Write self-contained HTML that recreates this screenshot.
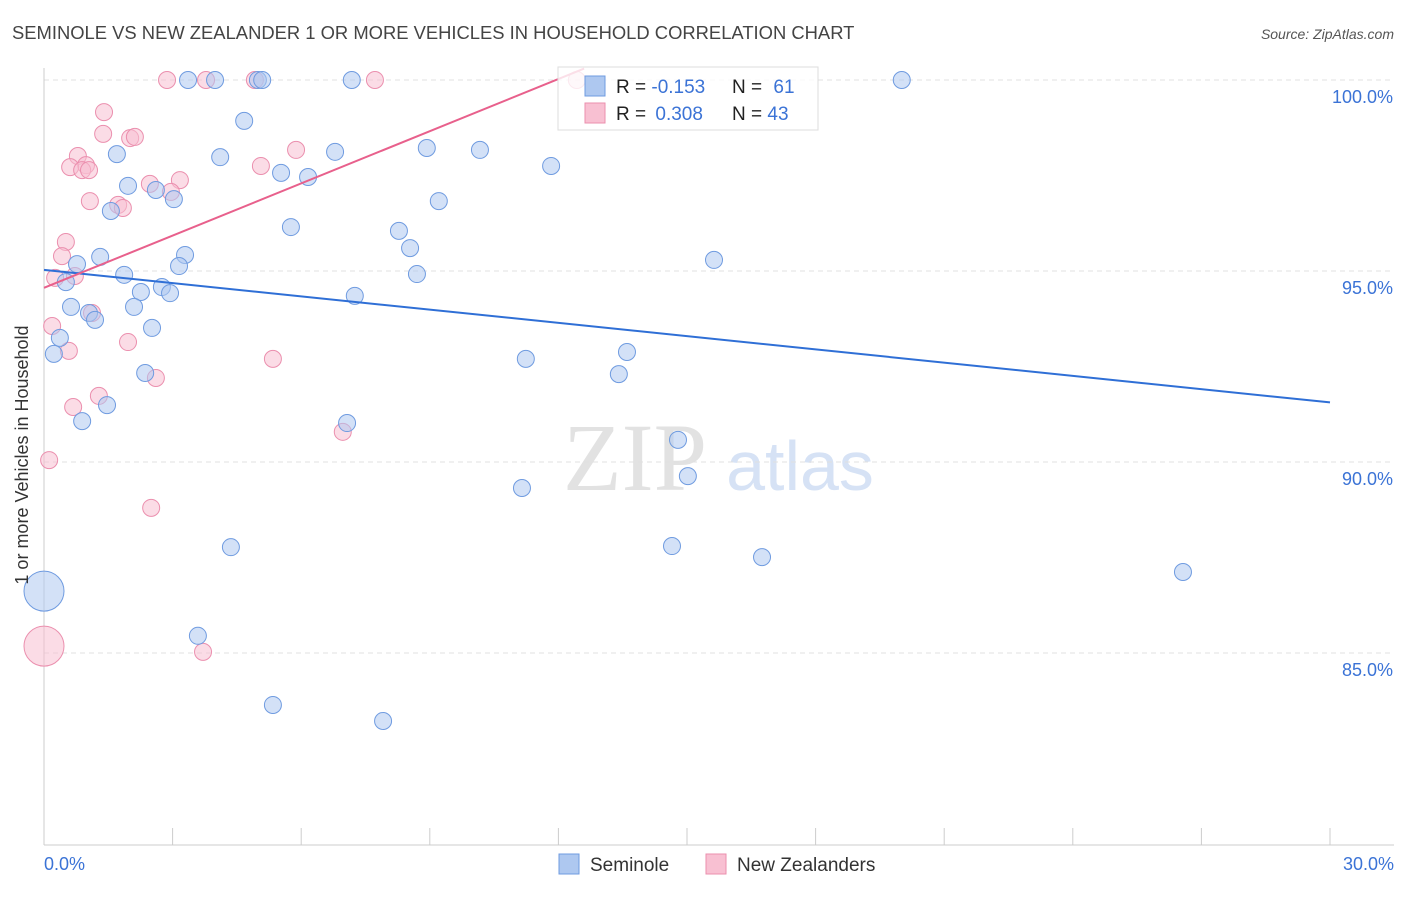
<!DOCTYPE html>
<html><head><meta charset="utf-8"><style>
body{margin:0;background:#fff;font-family:"Liberation Sans",sans-serif}
</style></head><body>
<svg id="c" width="1406" height="892" xmlns="http://www.w3.org/2000/svg">
<text x="12" y="39" font-size="18.4" fill="#444">SEMINOLE VS NEW ZEALANDER 1 OR MORE VEHICLES IN HOUSEHOLD CORRELATION CHART</text>
<text x="1394" y="39" font-size="14" fill="#555" font-style="italic" text-anchor="end">Source: ZipAtlas.com</text>
<text x="635" y="490" font-size="96" fill="#e2e2e2" font-family="Liberation Serif,serif" text-anchor="middle">ZIP</text>
<text x="800" y="490" font-size="70" fill="#d6e2f5" text-anchor="middle">atlas</text>
<g id="grid"></g><g id="pts"></g><g id="lines"></g>
<text x="28" y="455" font-size="18" fill="#333" transform="rotate(-90 28 455)" text-anchor="middle">1 or more Vehicles in Household</text>
<g>
<rect x="558" y="67" width="260" height="63" fill="#fff" fill-opacity="0.8" stroke="#ddd"/>
<rect x="585" y="76" width="20" height="20" fill="#aec8f0" stroke="#6f9be0"/>
<rect x="585" y="103" width="20" height="20" fill="#f8c0d2" stroke="#eb8fae"/>
<text x="616" y="93" font-size="19" fill="#222">R = <tspan fill="#3b73d6">-0.153</tspan></text>
<text x="732" y="93" font-size="19" fill="#222">N = <tspan fill="#3b73d6" dx="6">61</tspan></text>
<text x="616" y="120" font-size="19" fill="#222">R = <tspan fill="#3b73d6" dx="4">0.308</tspan></text>
<text x="732" y="120" font-size="19" fill="#222">N = <tspan fill="#3b73d6">43</tspan></text>
</g>
<g>
<rect x="559" y="854" width="20" height="20" fill="#aec8f0" stroke="#6f9be0"/>
<text x="590" y="871" font-size="19" fill="#333">Seminole</text>
<rect x="706" y="854" width="20" height="20" fill="#f8c0d2" stroke="#eb8fae"/>
<text x="737" y="871" font-size="19" fill="#333">New Zealanders</text>
</g>
</svg>
<script>
const yTicks=[100,95,90,85];
const xTickCount=[0,3,6,9,12,15,18,21,24,27,30];
const blueX=[4.99,5.09,3.36,3.99,7.18,20.01,4.67,1.70,4.11,6.79,8.93,10.17,11.83,1.96,2.61,3.03,5.53,6.16,1.56,5.76,9.21,8.28,8.54,1.31,3.29,3.15,0.77,1.87,0.51,8.70,15.63,2.26,2.75,2.94,2.10,0.63,7.25,1.05,1.19,2.52,0.37,0.23,11.24,13.60,2.36,13.41,1.47,0.89,7.07,14.79,15.02,11.15,4.36,14.65,16.75,26.57,0.0,3.59,5.34,7.91];
const blueY=[100,100,100,100,100,100,98.93,98.06,97.98,98.12,98.22,98.17,97.75,97.23,97.12,96.88,97.57,97.46,96.57,96.15,96.83,96.05,95.60,95.37,95.42,95.13,95.18,94.90,94.71,94.92,95.29,94.45,94.58,94.42,94.06,94.06,94.35,93.90,93.72,93.51,93.25,92.83,92.70,92.88,92.33,92.30,91.49,91.07,91.02,90.58,89.63,89.32,87.77,87.80,87.51,87.12,86.62,85.45,83.64,83.22];
const pinkX=[2.87,3.78,7.72,12.43,4.92,1.40,1.38,2.01,2.12,0.79,0.98,0.61,0.89,1.05,5.88,5.06,2.47,3.17,2.96,1.07,1.73,1.84,0.51,0.42,0.72,0.26,1.12,0.19,0.58,1.96,5.34,2.61,1.28,0.68,6.97,0.12,2.50,3.71,0];
const pinkY=[100,100,100,100,100,99.16,98.59,98.48,98.51,98.01,97.77,97.72,97.64,97.64,98.17,97.75,97.28,97.38,97.07,96.83,96.73,96.65,95.76,95.39,94.87,94.82,93.90,93.56,92.91,93.14,92.70,92.20,91.73,91.44,90.79,90.05,88.80,85.03,85.18];
const blueTrendX=[0,30], blueTrendY=[95.03,91.56];
const pinkTrendX=[0,12.6], pinkTrendY=[94.56,100.3];
const NS="http://www.w3.org/2000/svg";
const sx=v=>44+v/30*1286, sy=v=>80+(100-v)*38.2;
function mk(t,a,p){const e=document.createElementNS(NS,t);for(const k in a)e.setAttribute(k,a[k]);document.getElementById(p).appendChild(e);return e;}
yTicks.forEach(t=>{
 const l=mk('line',{x1:44,x2:1394,y1:sy(t),y2:sy(t),stroke:'#e0e0e0','stroke-dasharray':'5,4'},'grid');
 
 
 const tx=mk('text',{x:1393,y:sy(t)+23,'font-size':18,fill:'#3b73d6','text-anchor':'end'},'grid');
 tx.textContent=t.toFixed(1)+'%';
 
 
});
const ax=mk('line',{x1:44,x2:44,y1:68,y2:845,stroke:'#ccc'},'grid');


const bx=mk('line',{x1:44,x2:1394,y1:845,y2:845,stroke:'#ccc'},'grid');


xTickCount.forEach(t=>{
 const l=mk('line',{x1:sx(t),x2:sx(t),y1:828,y2:845,stroke:'#ccc'},'grid');
 
 
});
[[0,'start'],[30,'end']].forEach(([t,a])=>{
 const tx=mk('text',{x:t?1394:44,y:870,'font-size':18,fill:'#3b73d6','text-anchor':a},'grid');
 tx.textContent=t.toFixed(1)+'%';
 
 
});
function pts(X,Y,fill,stroke,name){X.forEach((x,i)=>{
 const big=(x===0&&(Y[i]<87&&Y[i]>85));
 const c=mk('circle',{cx:sx(x),cy:sy(Y[i]),r:big?20:8.5,fill:fill,'fill-opacity':0.55,stroke:stroke,'stroke-width':1},'pts');
 
 
});}
pts(pinkX,pinkY,'#f8c0d2','#eb8fae','new-zealander-point');
pts(blueX,blueY,'#aec8f0','#6f9be0','seminole-point');
const bl=mk('line',{x1:sx(blueTrendX[0]),y1:sy(blueTrendY[0]),x2:sx(blueTrendX[1]),y2:sy(blueTrendY[1]),stroke:'#2f6fd6','stroke-width':2},'lines');


const pl=mk('line',{x1:sx(pinkTrendX[0]),y1:sy(pinkTrendY[0]),x2:sx(pinkTrendX[1]),y2:sy(pinkTrendY[1]),stroke:'#e8608c','stroke-width':2},'lines');


</script>
</body></html>
